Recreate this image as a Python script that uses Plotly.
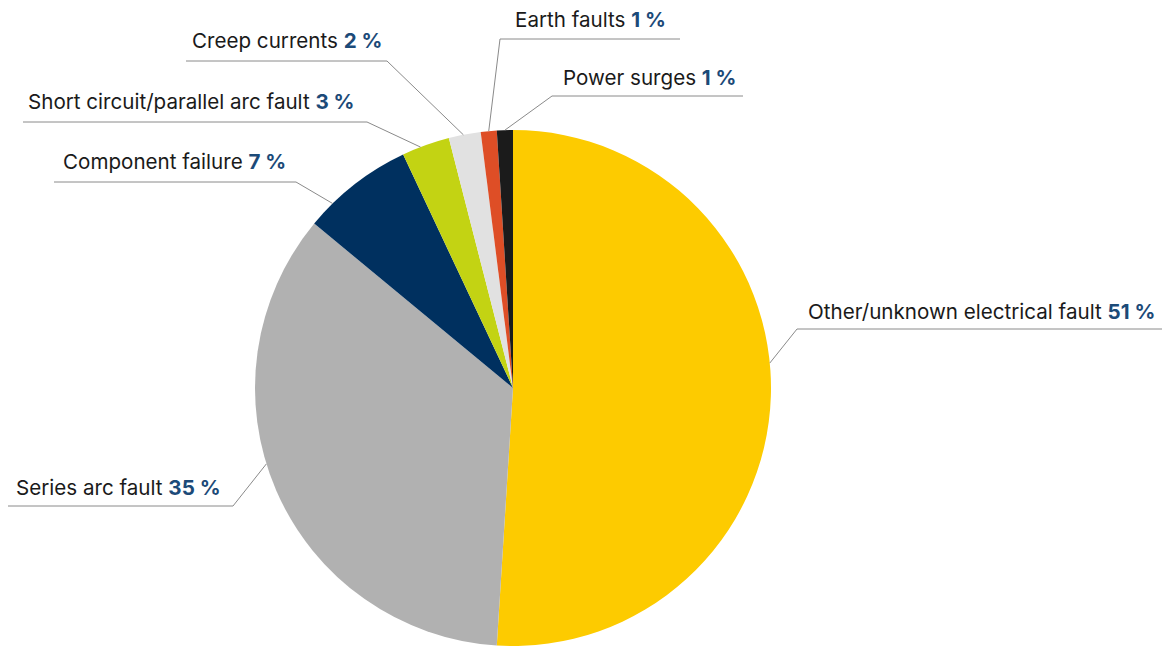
import math
import plotly.graph_objects as go

# ---- data ----
labels = ["Other/unknown electrical fault", "Series arc fault", "Component failure",
          "Short circuit/parallel arc fault", "Creep currents", "Earth faults", "Power surges"]
values = [51, 35, 7, 3, 2, 1, 1]
colors = ["#FDCB00", "#B1B1B1", "#00305F", "#C3D313", "#E1E1E1", "#DE4E26", "#1B1B1B"]

# ---- layout ----
W, H = 1164, 646
CX, CY, R = 513, 388, 258

# per label: fraction within slice for anchor, text x/y, line x0/x1/y, elbow x
label_layout = [
    dict(frac=0.46, tx=806, ty=311, lx0=797, lx1=1162, ly=329, ex=797),
    dict(frac=0.55, tx=14, ty=488, lx0=8, lx1=233, ly=506, ex=233),
    dict(frac=0.24, tx=61, ty=161, lx0=54, lx1=296, ly=182, ex=296),
    dict(frac=0.39, tx=26, ty=101, lx0=23, lx1=367, ly=122, ex=367),
    dict(frac=0.46, tx=190, ty=41, lx0=186, lx1=387, ly=61, ex=387),
    dict(frac=0.5, tx=513, ty=19, lx0=500, lx1=680, ly=39, ex=500),
    dict(frac=0.5, tx=561, ty=77, lx0=552, lx1=743, ly=96, ex=552),
]

def px(x):
    return x / W

def py(y):
    return 1 - y / H

fig = go.Figure(go.Pie(
    labels=labels, values=values, sort=False, direction="clockwise", rotation=0,
    marker=dict(colors=colors, line=dict(width=0)),
    textinfo="none", hoverinfo="label+percent", showlegend=False,
    domain=dict(x=[(CX - R) / W, (CX + R) / W], y=[py(CY + R), py(CY - R)]),
))

total = sum(values)
cum = 0
shapes = []
annotations = []
for lab, v, lay in zip(labels, values, label_layout):
    a0 = cum / total * 360
    a1 = (cum + v) / total * 360
    cum += v
    ang = math.radians(a0 + lay["frac"] * (a1 - a0))
    ax = CX + R * math.sin(ang)
    ay = CY - R * math.cos(ang)
    line_style = dict(color="#8A8A8A", width=1)
    shapes.append(dict(type="line", xref="paper", yref="paper",
                       x0=px(ax), y0=py(ay), x1=px(lay["ex"]), y1=py(lay["ly"]), line=line_style))
    shapes.append(dict(type="line", xref="paper", yref="paper",
                       x0=px(lay["lx0"]), y0=py(lay["ly"]), x1=px(lay["lx1"]), y1=py(lay["ly"]), line=line_style))
    annotations.append(dict(
        xref="paper", yref="paper", x=px(lay["tx"]), y=py(lay["ty"]),
        xanchor="left", yanchor="middle", showarrow=False,
        text=f"{lab} <b><span style='color:#1C4A78'>{v} %</span></b>",
        font=dict(family="Inter", size=20.6, color="#1A1A1A"),
    ))

fig.update_layout(
    width=W, height=H, margin=dict(l=0, r=0, t=0, b=0),
    paper_bgcolor="white", plot_bgcolor="white",
    shapes=shapes, annotations=annotations,
)
fig.write_html("out.html")
